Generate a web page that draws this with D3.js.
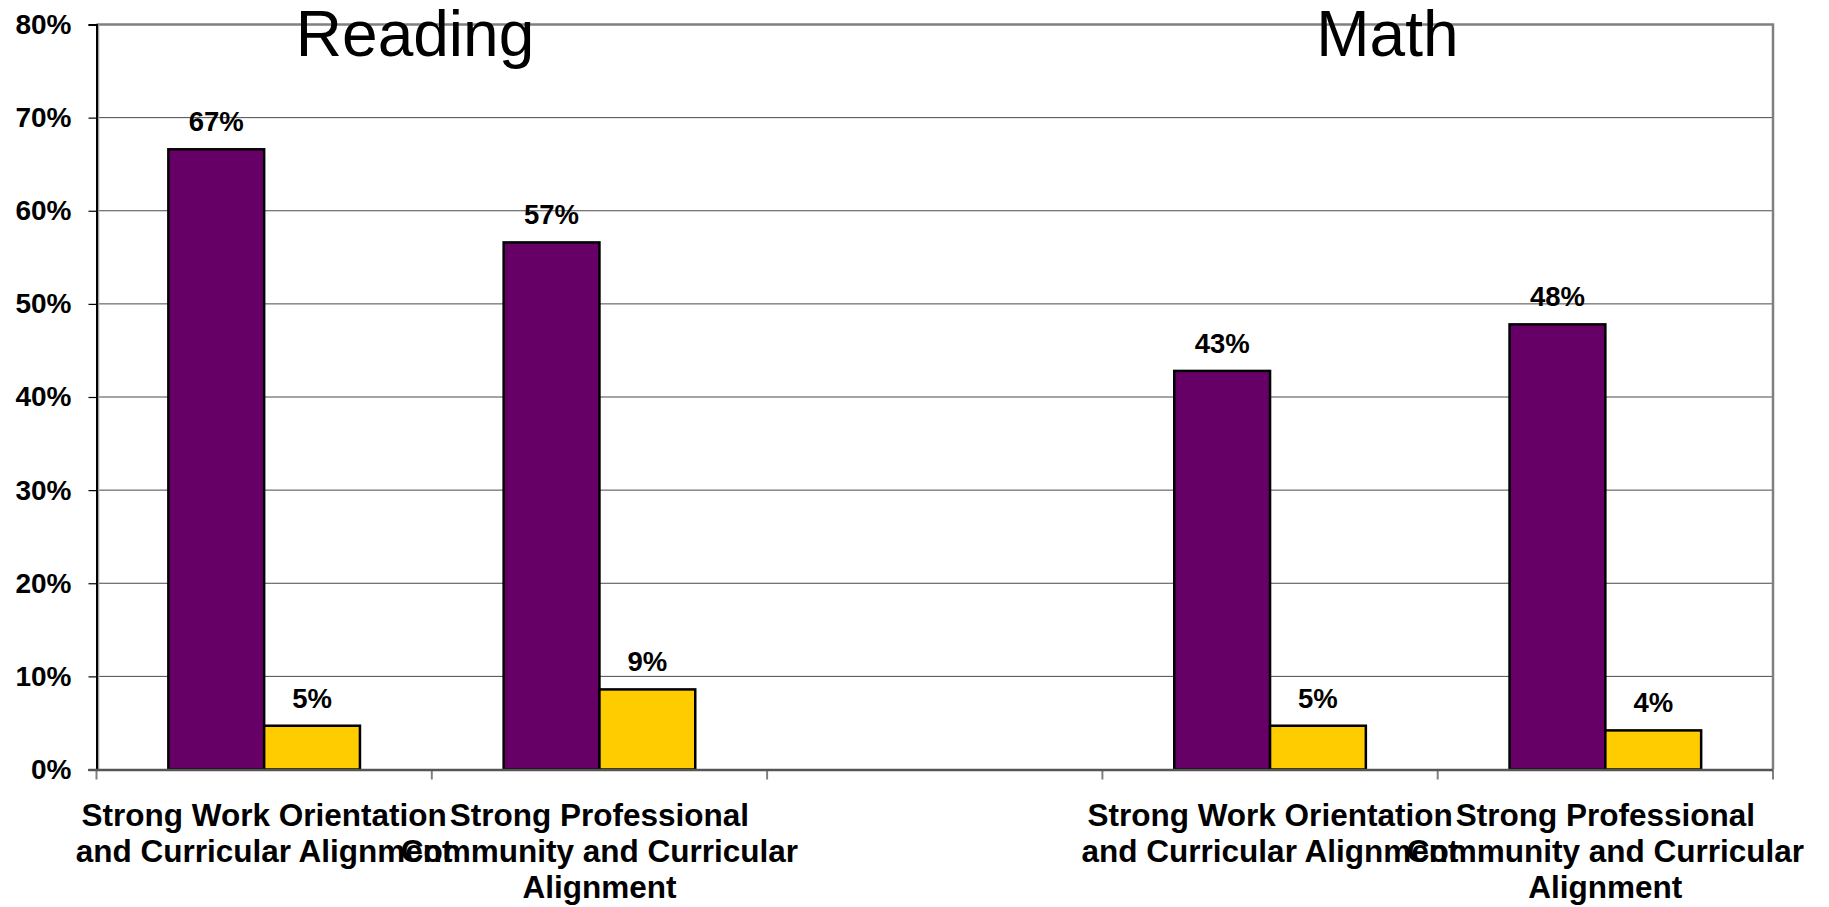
<!DOCTYPE html>
<html>
<head>
<meta charset="utf-8">
<script src="https://cdn.jsdelivr.net/npm/d3@7"></script>
<style>
  html, body { margin: 0; padding: 0; background: #fff; }
  svg { display: block; font-family: "Liberation Sans", Arial, sans-serif; }
</style>
</head>
<body>
<svg id="chart" width="1829" height="907"></svg>
<script>
// Category labels along the x axis (the middle slot separates the two subjects)
const categoryLabels = [
  "Strong Work Orientation\nand Curricular Alignment",
  "Strong Professional\nCommunity and Curricular\nAlignment",
  "",
  "Strong Work Orientation\nand Curricular Alignment",
  "Strong Professional\nCommunity and Curricular\nAlignment"
];
// Subject headings and the category slots they sit over
const subjects = ["Reading", "Math"];
const subjectCentre = [0.95, 3.85];   // in category units from the left edge
// Two series per category
const seriesNames = ["High", "Low"];
const seriesColors = ["#660066", "#FFCC00"];
const highValues = [0.666, 0.566, null, 0.428, 0.478];
const lowValues  = [0.047, 0.086, null, 0.047, 0.042];
// Y axis ticks
const yTicks = [0, 0.1, 0.2, 0.3, 0.4, 0.5, 0.6, 0.7, 0.8];

const svg = d3.select("#chart");
const margin = { left: 96.5, right: 1773, top: 24.5, bottom: 769.5 };

const y = d3.scaleLinear().domain([0, 0.8]).range([margin.bottom, margin.top]);
const x0 = d3.scaleBand().domain(d3.range(categoryLabels.length))
  .range([margin.left, margin.right]).paddingInner(0).paddingOuter(0);
const x1 = d3.scaleBand().domain(seriesNames)
  .range([0, x0.bandwidth()]).paddingInner(0).paddingOuter(0.75);
const catUnit = d3.scaleLinear().domain([0, categoryLabels.length]).range([margin.left, margin.right]);

// Gridlines
svg.append("g").selectAll("line").data(yTicks.filter(t => t > 0 && t < 0.8)).join("line")
  .attr("x1", margin.left).attr("x2", margin.right)
  .attr("y1", d => y(d)).attr("y2", d => y(d))
  .attr("stroke", "#4a4a4a").attr("stroke-width", 1);

// Plot area border (top and right)
svg.append("path")
  .attr("d", `M${margin.left},${y(0.8)}H${margin.right}V${y(0)}`)
  .attr("fill", "none").attr("stroke", "#808080").attr("stroke-width", 2.5);
// light inner edge beside the value axis
svg.append("line")
  .attr("x1", margin.left + 2).attr("x2", margin.left + 2)
  .attr("y1", y(0.8)).attr("y2", y(0))
  .attr("stroke", "#a0a0a0").attr("stroke-width", 1.5);

// Bars
const rows = d3.range(categoryLabels.length).flatMap(i => [
  { cat: i, series: seriesNames[0], value: highValues[i], color: seriesColors[0] },
  { cat: i, series: seriesNames[1], value: lowValues[i], color: seriesColors[1] }
]).filter(d => d.value != null);

svg.append("g").selectAll("rect").data(rows).join("rect")
  .attr("x", d => x0(d.cat) + x1(d.series))
  .attr("width", x1.bandwidth())
  .attr("y", d => y(d.value))
  .attr("height", d => y(0) - y(d.value))
  .attr("fill", d => d.color)
  .attr("stroke", "#000").attr("stroke-width", 2.5);

// Value labels
const pct = d3.format(".0%");
svg.append("g").selectAll("text").data(rows).join("text")
  .attr("x", d => x0(d.cat) + x1(d.series) + x1.bandwidth() / 2)
  .attr("y", d => y(d.value) - 18)
  .attr("text-anchor", "middle")
  .attr("font-size", 27.5).attr("font-weight", "bold").attr("fill", "#000")
  .text(d => pct(d.value));

// Y axis
const yAxis = svg.append("g").attr("transform", `translate(${margin.left},0)`)
  .call(d3.axisLeft(y).tickValues(yTicks).tickFormat(d3.format(".0%")).tickSize(8).tickPadding(17));
yAxis.select(".domain").attr("stroke", "#000").attr("stroke-width", 2);
yAxis.selectAll(".tick line").attr("stroke", "#000").attr("stroke-width", 1.2);
yAxis.selectAll(".tick text")
  .attr("font-size", 28).attr("font-weight", "bold").attr("fill", "#000")
  .attr("font-family", "\"Liberation Sans\", Arial, sans-serif");

// X axis: boundary ticks between categories
const xBounds = d3.range(categoryLabels.length + 1).map(i => catUnit(i));
svg.append("g").selectAll("line").data(xBounds).join("line")
  .attr("x1", d => d).attr("x2", d => d)
  .attr("y1", y(0)).attr("y2", y(0) + 10)
  .attr("stroke", "#808080").attr("stroke-width", 2);
svg.append("line")
  .attr("x1", margin.left - 8).attr("x2", margin.right)
  .attr("y1", y(0) + 0.5).attr("y2", y(0) + 0.5)
  .attr("stroke", "#555").attr("stroke-width", 2.5);

// Category labels
const catText = svg.append("g").selectAll("text")
  .data(categoryLabels.map((l, i) => ({ i, lines: l ? l.split("\n") : [] })))
  .join("text")
  .attr("text-anchor", "middle")
  .attr("font-size", 31.5).attr("font-weight", "bold").attr("fill", "#000");
catText.selectAll("tspan").data(d => d.lines.map((t, k) => ({ t, k, i: d.i }))).join("tspan")
  .attr("x", d => x0(d.i) + x0.bandwidth() / 2)
  .attr("y", d => 826 + d.k * 36)
  .text(d => d.t);

// Subject headings
svg.append("g").selectAll("text").data(subjects).join("text")
  .attr("x", (d, i) => catUnit(subjectCentre[i]))
  .attr("y", 56)
  .attr("text-anchor", "middle")
  .attr("font-size", 64).attr("fill", "#000")
  .text(d => d);
</script>
</body>
</html>
